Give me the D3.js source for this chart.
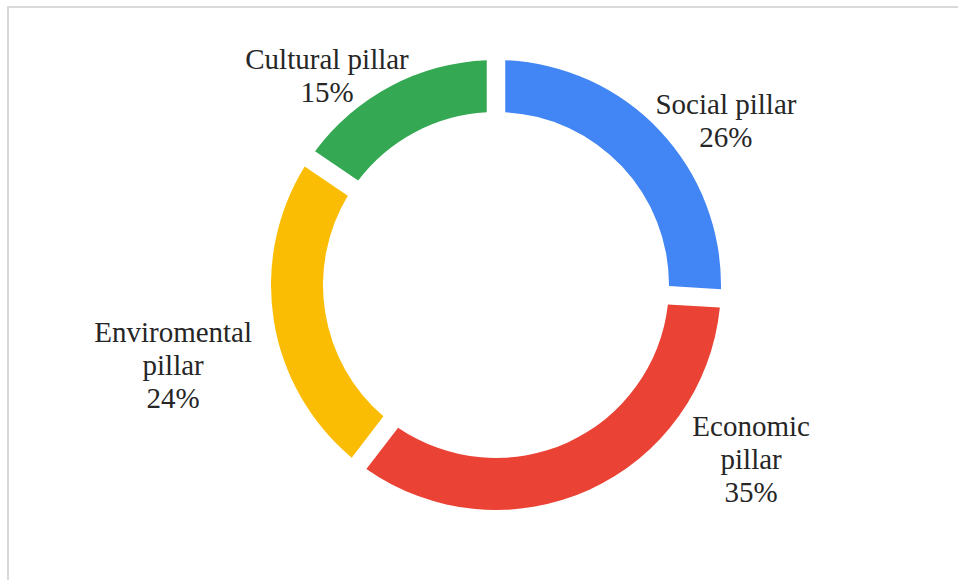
<!DOCTYPE html>
<html>
<head>
<meta charset="utf-8">
<script src="https://cdn.jsdelivr.net/npm/d3@7"></script>
<style>
  html, body { margin: 0; padding: 0; background: #fff; }
  svg { display: block; }
</style>
</head>
<body>
<svg id="chart" width="958" height="580"></svg>
<script>
// ---- data ----
const categories = ["Social pillar", "Economic pillar", "Enviromental pillar", "Cultural pillar"];
const values = [26, 35, 24, 15];
const labelLines = [["Social pillar"], ["Economic", "pillar"], ["Enviromental", "pillar"], ["Cultural pillar"]];
const colors = ["#4285F4", "#EA4335", "#FBBC04", "#34A853"];

// ---- layout ----
const W = 958, H = 580;
const cx = 496, cy = 285;
const outerR = 225, innerR = 173;
const gap = 18.5;
// label anchor offsets from centre, in units of outer radius (x of block centre, y of first baseline)
const labelOffsets = [[1.022, -0.760], [1.134, 0.671], [-1.435, 0.253], [-0.751, -0.960]];
const lineH = 33;

const svg = d3.select("#chart");

// frame
svg.append("rect")
  .attr("x", 8).attr("y", 7)
  .attr("width", 1200).attr("height", 1200)
  .attr("fill", "#fff")
  .attr("stroke", "#d9d9d9")
  .attr("stroke-width", 2);

const data = categories.map((c, i) => ({ cat: c, value: values[i], lines: labelLines[i], color: colors[i], off: labelOffsets[i] }));

const pie = d3.pie().value(d => d.value).sort(null).padAngle(gap / outerR);
const arc = d3.arc().innerRadius(innerR).outerRadius(outerR).padRadius(outerR);

const g = svg.append("g").attr("transform", `translate(${cx},${cy})`);

g.selectAll("path.slice")
  .data(pie(data))
  .join("path")
  .attr("class", "slice")
  .attr("d", arc)
  .attr("fill", d => d.data.color);

const total = d3.sum(values);
const labels = g.selectAll("text.lbl")
  .data(pie(data))
  .join("text")
  .attr("class", "lbl")
  .attr("text-anchor", "middle")
  .attr("font-family", "'Liberation Serif', 'Times New Roman', serif")
  .attr("font-size", 29)
  .attr("fill", "#262626")
  .attr("transform", d => `translate(${d.data.off[0] * outerR},${d.data.off[1] * outerR})`);

labels.each(function(d) {
  const t = d3.select(this);
  const lines = d.data.lines.concat([Math.round(d.data.value / total * 100) + "%"]);
  lines.forEach((ln, i) => {
    t.append("tspan").attr("x", 0).attr("y", i * lineH).text(ln);
  });
});
</script>
</body>
</html>
